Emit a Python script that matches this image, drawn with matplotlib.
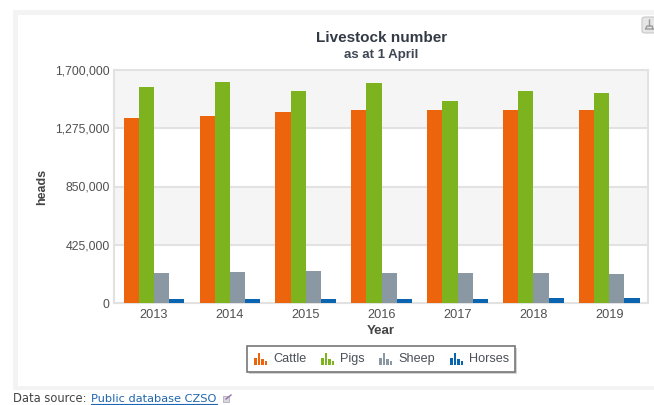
import matplotlib
matplotlib.use("Agg")
import matplotlib.pyplot as plt
from matplotlib.patches import Rectangle, FancyBboxPatch

plt.rcParams["font.family"] = ["Liberation Sans", "DejaVu Sans"]

W, H = 654, 405

years = ["2013", "2014", "2015", "2016", "2017", "2018", "2019"]
cattle = [1347000, 1367000, 1394000, 1408000, 1410000, 1408000, 1408000]
pigs = [1576000, 1610000, 1547000, 1603000, 1476000, 1547000, 1532000]
sheep = [217000, 224000, 231000, 217000, 217000, 217000, 210000]
horses = [29000, 29000, 29000, 29000, 29000, 36000, 36000]
y_ticks = [0, 425000, 850000, 1275000, 1700000]
legend_names = ["Cattle", "Pigs", "Sheep", "Horses"]
colors = ["#ec640c", "#7db31e", "#8a98a3", "#0a64b0"]
icon_bars = [0.6, 1.0, 0.5, 0.3]


def fx(px):
    return px / W


def fy(py):
    return 1 - py / H


def add_rect(fig, x0, y0, x1, y1, **kw):
    fig.add_artist(Rectangle((fx(x0), fy(y1)), (x1 - x0) / W, (y1 - y0) / H,
                             transform=fig.transFigure, **kw))


def add_line(fig, xs, ys, **kw):
    fig.add_artist(plt.Line2D([fx(x) for x in xs], [fy(y) for y in ys], **kw))


def make_graph():
    fig = plt.figure(figsize=(W / 100, H / 100), dpi=100)

    # panel frame
    add_rect(fig, 13, 10, 654, 390, fc="#f3f3f3", ec="none", zorder=-3)
    add_rect(fig, 18, 15, 654, 386, fc="white", ec="none", zorder=-2)

    ax = fig.add_axes([fx(114), fy(303), (648 - 114) / W, (303 - 70) / H])
    ax.set_facecolor("white")
    ax.set_xlim(-0.527, 6.51)
    ax.set_ylim(0, y_ticks[-1])

    for i in range(len(y_ticks) - 1):
        if i % 2 == 1:
            ax.axhspan(y_ticks[i], y_ticks[i + 1], color="#f5f5f5", lw=0, zorder=0)
    for t in y_ticks:
        ax.axhline(t, color="#e2e2e2", lw=1.5, zorder=1, clip_on=False)

    width = 0.2
    series = [cattle, pigs, sheep, horses]
    for k, values in enumerate(series):
        xs = [i + (k - 1.5) * width for i in range(len(years))]
        ax.bar(xs, values, width=width, color=colors[k], zorder=2, lw=0)

    for side in ["top", "left", "right", "bottom"]:
        ax.spines[side].set_visible(False)
    ax.plot([0, 0], [0, 1], transform=ax.transAxes, color="#e2e2e2", lw=1.5, clip_on=False)
    ax.plot([1, 1], [0, 1], transform=ax.transAxes, color="#e2e2e2", lw=1.5, clip_on=False)

    ax.set_xticks(range(len(years)))
    ax.set_xticklabels(years)
    ax.set_yticks(y_ticks)
    ax.set_yticklabels([f"{t:,}" for t in y_ticks])
    ax.tick_params(length=0, labelcolor="#505050")
    ax.tick_params(axis="x", pad=4, labelsize=9.2)
    ax.tick_params(axis="y", pad=3, labelsize=8.8)

    fig.text(fx(382), fy(38), "Livestock number", ha="center", va="center",
             fontsize=11, fontweight="bold", color="#333a45")
    fig.text(fx(381), fy(55), "as at 1 April", ha="center", va="center",
             fontsize=9.5, fontweight="bold", color="#3f4654")
    fig.text(fx(381), fy(331), "Year", ha="center", va="center",
             fontsize=9.5, fontweight="bold", color="#444444")
    fig.text(fx(42), fy(187), "heads", ha="center", va="center", rotation=90,
             fontsize=9, fontweight="bold", color="#444444")

    # legend box
    add_rect(fig, 249, 348, 517, 374, fc="#d4d4d4", ec="none")
    add_rect(fig, 247, 346, 515, 372, fc="white", ec="#777777", lw=1.2)
    icon_x = [254, 321, 379, 450]
    text_x = [273, 340, 398, 469]
    for name, c, ix, tx in zip(legend_names, colors, icon_x, text_x):
        for j, h in enumerate(icon_bars):
            add_rect(fig, ix + j * 3.5, 365 - 12 * h, ix + j * 3.5 + 2.8, 365, fc=c, ec="none")
        fig.text(fx(tx), fy(359), name, ha="left", va="center", fontsize=9.1, color="#4a5058")

    # export button
    fig.add_artist(FancyBboxPatch((fx(642), fy(33)), 14 / W, 16 / H, transform=fig.transFigure,
                                  boxstyle="round,pad=0,rounding_size=0.005",
                                  fc="#e6e6e6", ec="#c8c8c8", lw=0.8))
    add_line(fig, [649.5, 649.5, 647, 645.5, 653], [20, 26, 26, 29, 29], color="#9a9a9a", lw=1.0)
    add_line(fig, [649.5, 652, 653], [26, 26, 29], color="#9a9a9a", lw=1.0)

    # data source line
    fig.text(fx(13), fy(399), "Data source:", ha="left", va="center",
             fontsize=8.3, family="DejaVu Sans", color="#444444")
    fig.text(fx(91), fy(399), "Public database CZSO", ha="left", va="center",
             fontsize=8.2, family="DejaVu Sans", color="#1f66b0")
    add_line(fig, [91, 217], [404, 404], color="#1f66b0", lw=0.8)
    add_rect(fig, 223, 396, 229, 402, fc="#d8d8de", ec="#b8b8c0", lw=0.7)
    add_line(fig, [226, 231], [399, 395], color="#9a6fb5", lw=1.0)

    fig.savefig("out.png", dpi=100)


def main():
    make_graph()


if __name__ == "__main__":
    main()
